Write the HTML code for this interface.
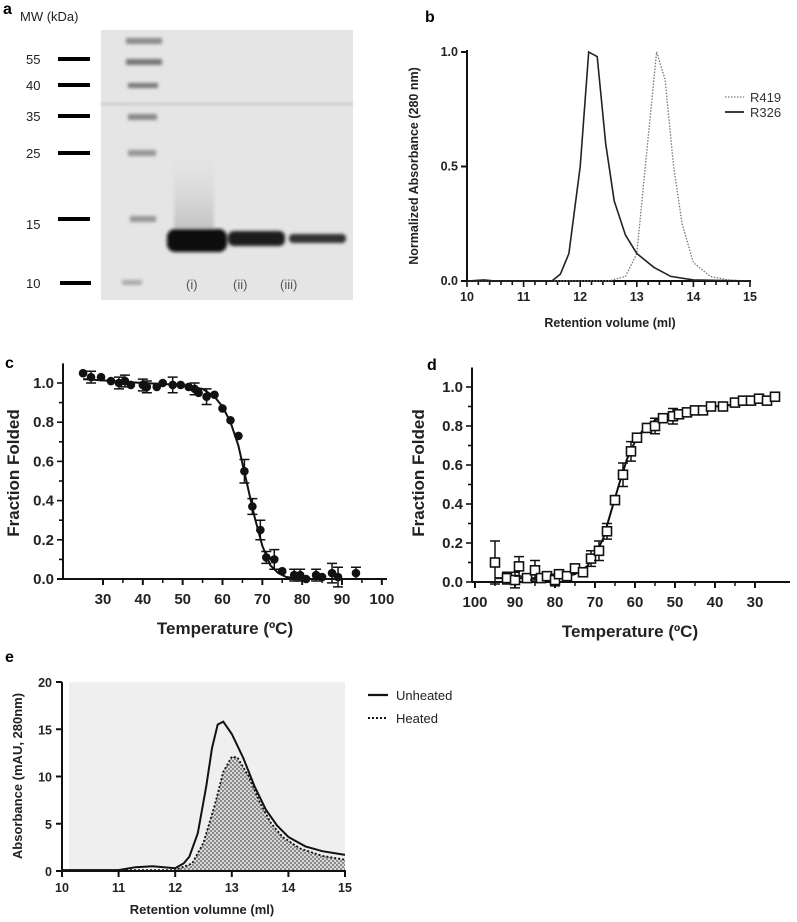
<!DOCTYPE html>
<html><head><meta charset="utf-8"><style>
html,body{margin:0;padding:0;background:#fff;}
svg{display:block;font-family:"Liberation Sans",Arial,sans-serif;}
</style></head><body>
<svg id="fig" width="797" height="922" viewBox="0 0 797 922">
<defs>
<pattern id="chk" width="4" height="4" patternUnits="userSpaceOnUse"><rect width="4" height="4" fill="#d8d8d8"/><rect width="2" height="2" fill="#8a8a8a"/><rect x="2" y="2" width="2" height="2" fill="#8a8a8a"/></pattern>
<filter id="blur"><feGaussianBlur stdDeviation="1.6"/></filter>
<linearGradient id="smear" x1="0" y1="0" x2="0" y2="1"><stop offset="0" stop-color="#ccc" stop-opacity="0"/><stop offset="1" stop-color="#777"/></linearGradient>
</defs>
<g>
<text x="3" y="14" font-size="16" font-weight="bold">a</text>
<text x="20" y="21" font-size="13" fill="#222">MW (kDa)</text>
<rect x="101" y="30" width="252" height="270" fill="#e5e5e5"/>
<g filter="url(#blur)">
<rect x="126" y="38" width="36" height="6" fill="#8a8a8a"/>
<rect x="126" y="59" width="36" height="6" fill="#777"/>
<rect x="128" y="83" width="30" height="5" fill="#777"/>
<rect x="128" y="114" width="29" height="6" fill="#888"/>
<rect x="128" y="150" width="28" height="6" fill="#959595"/>
<rect x="130" y="216" width="26" height="6" fill="#959595"/>
<rect x="122" y="280" width="20" height="5" fill="#aaa"/>
<rect x="174" y="150" width="40" height="85" fill="url(#smear)" opacity="0.35"/>
<rect x="167" y="229" width="60" height="23" rx="8" fill="#080808"/>
<rect x="228" y="231" width="57" height="15" rx="6" fill="#1e1e1e"/>
<rect x="289" y="234" width="57" height="9" rx="4" fill="#333"/>
<rect x="101" y="103" width="252" height="2" fill="#c4c4c4"/>
</g>
<g font-size="13" fill="#222">
<text x="26" y="64">55</text><rect x="58" y="57" width="32" height="4" fill="#000"/>
<text x="26" y="90">40</text><rect x="58" y="83" width="32" height="4" fill="#000"/>
<text x="26" y="121">35</text><rect x="58" y="114" width="32" height="4" fill="#000"/>
<text x="26" y="158">25</text><rect x="58" y="151" width="32" height="4" fill="#000"/>
<text x="26" y="229">15</text><rect x="58" y="217" width="32" height="4" fill="#000"/>
<text x="26" y="288">10</text><rect x="60" y="281" width="31" height="4" fill="#000"/>
</g>
<g font-size="13" fill="#555">
<text x="186" y="289">(i)</text><text x="233" y="289">(ii)</text><text x="280" y="289">(iii)</text>
</g>
</g>
<text x="425" y="22" font-size="16" font-weight="bold">b</text>
<text x="5" y="368" font-size="16" font-weight="bold">c</text>
<text x="427" y="370" font-size="16" font-weight="bold">d</text>
<text x="5" y="662" font-size="16" font-weight="bold">e</text>
<g id="gb"></g><g id="gc"></g><g id="gd"></g><g id="ge"></g>
</svg>
<script>
const bR326X=[10,10.3,10.5,11,11.5,11.65,11.8,12.0,12.15,12.3,12.45,12.6,12.8,13,13.3,13.6,14,15];
const bR326Y=[0,0.005,0,0,0,0.03,0.12,0.5,1.0,0.98,0.6,0.35,0.2,0.12,0.06,0.02,0.005,0];
const bR419X=[10,12.5,12.8,13.0,13.15,13.35,13.5,13.65,13.8,14,14.3,14.6,15];
const bR419Y=[0,0,0.02,0.12,0.5,1.0,0.88,0.5,0.25,0.08,0.02,0.005,0];
const bXTicks=[10,11,12,13,14,15];
const bYTicks=[0,0.5,1.0];
const cT=[25,27,29.5,32,34,35.5,37,40,41,43.5,45,47.5,49.5,51.5,53,54,56,58,60,62,64,65.5,67.5,69.5,71,73,75,78,79.5,81,83.5,85,87.5,89,93.5];
const cF=[1.05,1.03,1.03,1.01,1.0,1.01,0.99,0.99,0.98,0.98,1.0,0.99,0.99,0.98,0.97,0.95,0.93,0.94,0.87,0.81,0.73,0.55,0.37,0.25,0.11,0.1,0.04,0.02,0.02,0.0,0.02,0.01,0.03,0.01,0.03];
const cErr=[0,0.03,0,0,0.03,0.03,0,0.03,0.03,0,0,0.04,0,0,0.03,0,0.04,0,0,0,0,0.06,0.04,0.05,0.03,0.05,0,0.03,0.03,0,0.03,0,0.05,0.05,0.03];
const cFitT=[25,40,50,55,58,60,62,64,66,68,70,72,74,76,80,90];
const cFitF=[1.02,1.0,0.99,0.97,0.93,0.88,0.8,0.68,0.5,0.32,0.17,0.07,0.03,0.01,0.0,0.0];
const cXTicks=[30,40,50,60,70,80,90,100];
const cYTicks=[0,0.2,0.4,0.6,0.8,1.0];
const dT=[95,92,90,89,87,85,83.5,82,80,79,77,75,73,71,69,67,65,63,61,59.5,57,55,53,50.5,49,47,45,43,41,38,35,33,31,29,27,25];
const dF=[0.1,0.02,0.01,0.08,0.02,0.06,0.02,0.03,0.01,0.04,0.03,0.07,0.05,0.12,0.16,0.26,0.42,0.55,0.67,0.74,0.79,0.8,0.84,0.85,0.86,0.87,0.88,0.88,0.9,0.9,0.92,0.93,0.93,0.94,0.93,0.95];
const dErr=[0.11,0.03,0.04,0.05,0,0.05,0,0,0.03,0,0,0,0,0.04,0.05,0.04,0,0.06,0.05,0,0,0.04,0,0.04,0,0,0,0,0,0,0,0,0,0,0.02,0];
const dFitT=[95,80,75,72,70,68,66,64,62,60,58,55,50,40,25];
const dFitF=[0.02,0.02,0.04,0.08,0.14,0.22,0.36,0.5,0.63,0.72,0.78,0.83,0.87,0.9,0.93];
const dXTicks=[100,90,80,70,60,50,40,30];
const dYTicks=[0,0.2,0.4,0.6,0.8,1.0];
const eUnX=[10,11,11.3,11.6,12,12.15,12.25,12.4,12.55,12.65,12.75,12.85,13,13.2,13.4,13.6,13.8,14,14.3,14.6,15];
const eUnY=[0.1,0.1,0.4,0.5,0.3,0.8,1.5,4,9,13,15.5,15.8,14.5,12,9,6.5,4.8,3.6,2.6,2.1,1.7];
const eHX=[10,12,12.3,12.5,12.7,12.85,13,13.1,13.3,13.5,13.7,13.9,14.2,14.6,15];
const eHY=[0.1,0.1,0.8,3,7,10.5,12.1,12,10,7.2,5,3.6,2.4,1.6,1.2];
const eXTicks=[10,11,12,13,14,15];
const eYTicks=[0,5,10,15,20];

const NS='http://www.w3.org/2000/svg';
function mk(parent,tag,attrs){const e=document.createElementNS(NS,tag);for(const k in attrs)e.setAttribute(k,attrs[k]);parent.appendChild(e);return e;}
function lin(d0,d1,p0,p1){return v=>p0+(v-d0)*(p1-p0)/(d1-d0);}
function pathD(xs,ys,sx,sy){return xs.map((x,i)=>(i?'L':'M')+sx(x).toFixed(1)+' '+sy(ys[i]).toFixed(1)).join(' ');}

(function(){
const g=document.getElementById('gb');
const sx=lin(10,15,467,750), sy=lin(0,1,281,52);
let ax=mk(g,'path',{d:'M467 50 V281 H751',fill:'none',stroke:'#111','stroke-width':2});

for(let v=10;v<=15.001;v+=0.2){mk(g,'line',{x1:sx(v),x2:sx(v),y1:281,y2:Math.abs(v-Math.round(v))<0.01?287:285,stroke:'#111','stroke-width':1.6});}
bXTicks.forEach(v=>{const t=mk(g,'text',{x:sx(v),y:301,'font-size':12.5,'font-weight':'bold','text-anchor':'middle',fill:'#222'});t.textContent=v;
});
bYTicks.forEach(v=>{mk(g,'line',{x1:461,x2:467,y1:sy(v),y2:sy(v),stroke:'#111','stroke-width':2});
const t=mk(g,'text',{x:458,y:sy(v)+4,'font-size':12.5,'font-weight':'bold','text-anchor':'end',fill:'#222'});t.textContent=v.toFixed(1);
});
let yl=mk(g,'text',{x:0,y:0,'font-size':12.5,'font-weight':'bold','text-anchor':'middle',fill:'#222',transform:'translate(418,166) rotate(-90)'});yl.textContent='Normalized Absorbance (280 nm)';

let xl=mk(g,'text',{x:610,y:327,'font-size':12.5,'font-weight':'bold','text-anchor':'middle',fill:'#222'});xl.textContent='Retention volume (ml)';

let p1=mk(g,'path',{d:pathD(bR419X,bR419Y,sx,sy),fill:'none',stroke:'#777','stroke-width':1.3,'stroke-dasharray':'1.5 1.5'});

let p2=mk(g,'path',{d:pathD(bR326X,bR326Y,sx,sy),fill:'none',stroke:'#222','stroke-width':1.6});

mk(g,'line',{x1:725,x2:744,y1:97,y2:97,stroke:'#777','stroke-width':1.3,'stroke-dasharray':'1.5 1.5'});
let t1=mk(g,'text',{x:750,y:102,'font-size':13,fill:'#333'});t1.textContent='R419';

mk(g,'line',{x1:725,x2:744,y1:112,y2:112,stroke:'#222','stroke-width':1.8});
let t2=mk(g,'text',{x:750,y:117,'font-size':13,fill:'#333'});t2.textContent='R326';

})();

function meltPanel(id,pre,sx,sy,yAxisX,axStart,axEnd,xTicks,yTicks,T,F,E,fT,fF,square,titleCx,labX){
const g=document.getElementById(id);
let ax=mk(g,'path',{d:`M${yAxisX} ${sy(1.1)} V${sy(0)} M${axStart} ${sy(0)} H${axEnd}`,fill:'none',stroke:'#111','stroke-width':2});

xTicks.forEach(v=>{mk(g,'line',{x1:sx(v),x2:sx(v),y1:sy(0),y2:sy(0)+6,stroke:'#111','stroke-width':2});
const t=mk(g,'text',{x:sx(v),y:sy(0)+25,'font-size':15,'font-weight':'bold','text-anchor':'middle',fill:'#222'});t.textContent=v;
});
for(let i=0;i<xTicks.length-1;i++){const m=(xTicks[i]+xTicks[i+1])/2;mk(g,'line',{x1:sx(m),x2:sx(m),y1:sy(0),y2:sy(0)+4,stroke:'#111','stroke-width':1.5});}
for(let v=0;v<=1.0001;v+=0.1){mk(g,'line',{x1:yAxisX-(Math.round(v*10)%2?4:6),x2:yAxisX,y1:sy(v),y2:sy(v),stroke:'#111','stroke-width':1.6});}
yTicks.forEach(v=>{const t=mk(g,'text',{x:yAxisX-9,y:sy(v)+5,'font-size':15,'font-weight':'bold','text-anchor':'end',fill:'#222'});t.textContent=v.toFixed(1);
});
let yl=mk(g,'text',{x:0,y:0,'font-size':17,'font-weight':'bold','text-anchor':'middle',fill:'#222',transform:`translate(${labX},473) rotate(-90)`});yl.textContent='Fraction Folded';

let xl=mk(g,'text',{x:titleCx,y:sy(0)+55,'font-size':17,'font-weight':'bold','text-anchor':'middle',fill:'#222'});xl.textContent='Temperature (ºC)';

let fit=mk(g,'path',{d:pathD(fT,fF,sx,sy),fill:'none',stroke:'#111','stroke-width':2});

T.forEach((tv,i)=>{const x=sx(tv),y=sy(F[i]);
if(E[i]>0){const e=mk(g,'path',{d:`M${x} ${sy(F[i]+E[i])} V${sy(F[i]-E[i])} M${x-5} ${sy(F[i]+E[i])} h10 M${x-5} ${sy(F[i]-E[i])} h10`,stroke:'#111','stroke-width':1.5,fill:'none'});
}
let m;
if(square){m=mk(g,'rect',{x:x-4.5,y:y-4.5,width:9,height:9,fill:'#fff',stroke:'#111','stroke-width':1.6});}
else{m=mk(g,'circle',{cx:x,cy:y,r:4.3,fill:'#111'});}

});
}
meltPanel('gc','c',lin(30,90,103,342),lin(0,1,579,383),63,57,387,cXTicks,cYTicks,cT,cF,cErr,cFitT,cFitF,false,225,19);
meltPanel('gd','d',lin(100,30,475,755),lin(0,1,582,387),472,472,790,dXTicks,dYTicks,dT,dF,dErr,dFitT,dFitF,true,630,424);

(function(){
const g=document.getElementById('ge');
const sx=lin(10,15,62,345), sy=lin(0,20,871,682);
let bg=mk(g,'rect',{x:69,y:682,width:276,height:189,fill:'#efefef'});

let area=mk(g,'path',{d:pathD(eHX,eHY,sx,sy)+` L${sx(15)} ${sy(0)} L${sx(10)} ${sy(0)} Z`,fill:'url(#chk)',stroke:'none'});

let hl=mk(g,'path',{d:pathD(eHX,eHY,sx,sy),fill:'none',stroke:'#111','stroke-width':1.8,'stroke-dasharray':'2 2'});

let ul=mk(g,'path',{d:pathD(eUnX,eUnY,sx,sy),fill:'none',stroke:'#111','stroke-width':2});

let ax=mk(g,'path',{d:'M62 682 V871 H346',fill:'none',stroke:'#111','stroke-width':2});

eXTicks.forEach(v=>{mk(g,'line',{x1:sx(v),x2:sx(v),y1:871,y2:877,stroke:'#111','stroke-width':2});
const t=mk(g,'text',{x:sx(v),y:892,'font-size':12.5,'font-weight':'bold','text-anchor':'middle',fill:'#222'});t.textContent=v;
});
eYTicks.forEach(v=>{mk(g,'line',{x1:56,x2:62,y1:sy(v),y2:sy(v),stroke:'#111','stroke-width':2});
const t=mk(g,'text',{x:52,y:sy(v)+5,'font-size':12.5,'font-weight':'bold','text-anchor':'end',fill:'#222'});t.textContent=v;
});
let yl=mk(g,'text',{x:0,y:0,'font-size':13,'font-weight':'bold','text-anchor':'middle',fill:'#222',transform:'translate(22,776) rotate(-90)'});yl.textContent='Absorbance (mAU, 280nm)';

let xl=mk(g,'text',{x:202,y:914,'font-size':13,'font-weight':'bold','text-anchor':'middle',fill:'#222'});xl.textContent='Retention volumne (ml)';

mk(g,'line',{x1:368,x2:388,y1:695,y2:695,stroke:'#111','stroke-width':2.2});
let t1=mk(g,'text',{x:396,y:700,'font-size':13,fill:'#222'});t1.textContent='Unheated';

mk(g,'line',{x1:368,x2:388,y1:718,y2:718,stroke:'#111','stroke-width':2,'stroke-dasharray':'2 2'});
let t2=mk(g,'text',{x:396,y:723,'font-size':13,fill:'#222'});t2.textContent='Heated';

})();
</script>
</body></html>
